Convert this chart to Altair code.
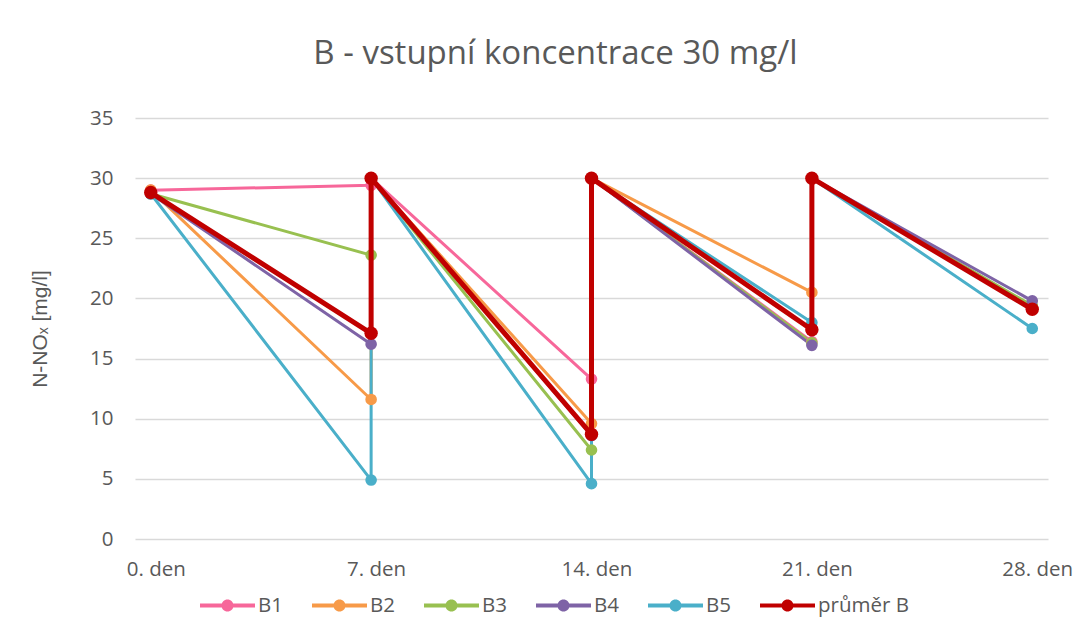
import altair as alt
import pandas as pd

# ---- data ----
days = [0, 7, 7, 14, 14, 21, 21, 28]
series_names = ["B1", "B2", "B3", "B4", "B5", "průměr B"]
b1 = [29.0, 29.4, 30.0, 13.3, 30.0, 16.4, 30.0, 19.3]
b2 = [29.0, 11.6, 30.0, 9.6, 30.0, 20.5, 30.0, 19.3]
b3 = [28.7, 23.6, 30.0, 7.4, 30.0, 16.3, 30.0, 19.4]
b4 = [28.7, 16.2, 30.0, 8.6, 30.0, 16.1, 30.0, 19.8]
b5 = [28.7, 4.9, 30.0, 4.6, 30.0, 18.0, 30.0, 17.5]
avg = [28.8, 17.1, 30.0, 8.7, 30.0, 17.4, 30.0, 19.1]
x_ticks = [0, 7, 14, 21, 28]
y_ticks = [0, 5, 10, 15, 20, 25, 30, 35]
colors = ["#F7679A", "#F79A48", "#98C050", "#7E63A6", "#4AAFC9", "#C00000"]

rows = []
for name, vals in zip(series_names, [b1, b2, b3, b4, b5, avg]):
    for i, (d, v) in enumerate(zip(days, vals)):
        rows.append({"series": name, "day": d, "value": v, "step": i,
                     "kind": "avg" if name == "průměr B" else "sample"})
df = pd.DataFrame(rows)

FONT = "Open Sans"
GREY = "#595959"

legend_path = ("M-1,-0.075L1,-0.075L1,0.075L-1,0.075Z "
               "M-0.22,0A0.22,0.22 0 1,1 0.22,0A0.22,0.22 0 1,1 -0.22,0Z")

color = alt.Color(
    "series:N",
    scale=alt.Scale(domain=series_names, range=colors),
    legend=alt.Legend(
        title=None, orient="none", legendX=65, legendY=460,
        direction="horizontal", columns=6,
        symbolType=legend_path, symbolSize=3025, symbolStrokeWidth=0,
        labelFont=FONT, labelFontSize=20.5, labelColor=GREY,
        labelOffset=3, columnPadding=29,
    ),
)

x = alt.X(
    "day:Q",
    scale=alt.Scale(domain=[-0.5, 28.5], nice=False, zero=False),
    axis=alt.Axis(values=x_ticks, labelExpr="datum.value + '. den'", title=None,
                  grid=False, ticks=False, domain=False, labelFont=FONT,
                  labelFontSize=20.5, labelColor=GREY, labelPadding=20, labelOffset=5),
)
y = alt.Y(
    "value:Q",
    scale=alt.Scale(domain=[0, 35], nice=False),
    axis=alt.Axis(values=y_ticks, title="N-NOₓ [mg/l]", grid=True, gridColor="#d9d9d9",
                  gridWidth=1.3, ticks=False, domain=False, labelFont=FONT,
                  labelFontSize=20.5, labelColor=GREY, labelPadding=22,
                  titleFont="Liberation Sans", titleFontSize=21, titleFontWeight="normal",
                  titleColor=GREY, titlePadding=39),
)

base = alt.Chart(df).encode(x=x, y=y, color=color, order=alt.Order("step:Q"))

samples = base.transform_filter(alt.datum.kind == "sample")
mean = base.transform_filter(alt.datum.kind == "avg")

chart = alt.layer(
    samples.mark_line(strokeWidth=3, strokeJoin="round"),
    samples.mark_circle(size=135, opacity=1),
    mean.mark_line(strokeWidth=5, strokeJoin="round"),
    mean.mark_circle(size=180, opacity=1),
).properties(
    width=913, height=421,
    background="white",
    padding={"left": 127, "top": 110, "right": 27, "bottom": 83},
    autosize=alt.AutoSizeParams(type="none"),
    title=alt.Title("B - vstupní koncentrace 30 mg/l", font=FONT, fontSize=33,
                    fontWeight="normal", color=GREY, anchor="middle", frame="group",
                    offset=37, dx=-36),
).configure_view(stroke=None)

chart.save("out.html", embed_options={"renderer": "svg", "actions": False})
